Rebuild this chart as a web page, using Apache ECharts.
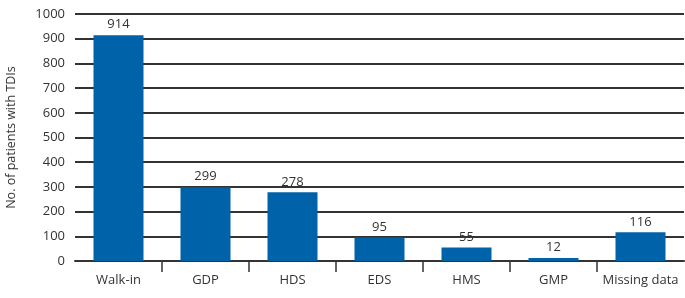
<!DOCTYPE html>
<html>
<head>
<meta charset="utf-8">
<script src="https://cdn.jsdelivr.net/npm/echarts@6/dist/echarts.min.js"></script>
<style>
  html, body { margin: 0; padding: 0; background: #fff; }
  #chart { width: 685px; height: 298px; }
</style>
</head>
<body>
<div id="chart"></div>
<script>
// categories and counts
const categories = ['Walk-in', 'GDP', 'HDS', 'EDS', 'HMS', 'GMP', 'Missing data']
const patients = [914, 299, 278, 95, 55, 12, 116]
const yTicks = { min: 0, max: 1000, interval: 100 }

const font = '"Open Sans", "Noto Sans", sans-serif'
const chart = echarts.init(document.getElementById('chart'))

// ticks only between categories (no tick at either end)
const boundaryTicks = categories.slice(1).map((c, i) => i + 1)

const option = {
  animation: false,
  grid: {
    left: 75,
    right: 1,
    top: 14,
    bottom: 37,
    outerBoundsMode: 'none'
  },
  xAxis: [
    {
      type: 'category',
      data: categories,
      axisLine: {
        lineStyle: { color: '#333', width: 2 }
      },
      axisTick: { show: false },
      axisLabel: {
        interval: 0,
        color: '#333',
        fontFamily: font,
        fontSize: 13,
        margin: 13
      }
    },
    {
      type: 'value',
      position: 'bottom',
      min: 0,
      max: categories.length,
      axisLine: { show: false },
      splitLine: { show: false },
      axisLabel: { show: false },
      axisTick: {
        show: true,
        inside: false,
        length: 11,
        customValues: boundaryTicks,
        lineStyle: { color: '#333', width: 1.5 }
      }
    }
  ],
  yAxis: {
    type: 'value',
    min: yTicks.min,
    max: yTicks.max,
    interval: yTicks.interval,
    name: 'No. of patients with TDIs',
    nameLocation: 'middle',
    nameGap: 57,
    nameTextStyle: {
      color: '#333',
      fontFamily: font,
      fontSize: 12.5
    },
    axisLine: { show: false },
    axisTick: { show: false },
    axisLabel: {
      color: '#333',
      fontFamily: font,
      fontSize: 13,
      margin: 10,
      formatter: v => String(v)
    },
    splitLine: {
      lineStyle: { color: '#333', width: 2 }
    }
  },
  series: [
    {
      type: 'bar',
      xAxisIndex: 0,
      data: patients,
      barWidth: 50,
      itemStyle: { color: '#0062a9' },
      label: {
        show: true,
        position: 'top',
        distance: 4,
        color: '#333',
        fontFamily: font,
        fontSize: 13
      }
    }
  ]
}
chart.setOption(option)
</script>
</body>
</html>
